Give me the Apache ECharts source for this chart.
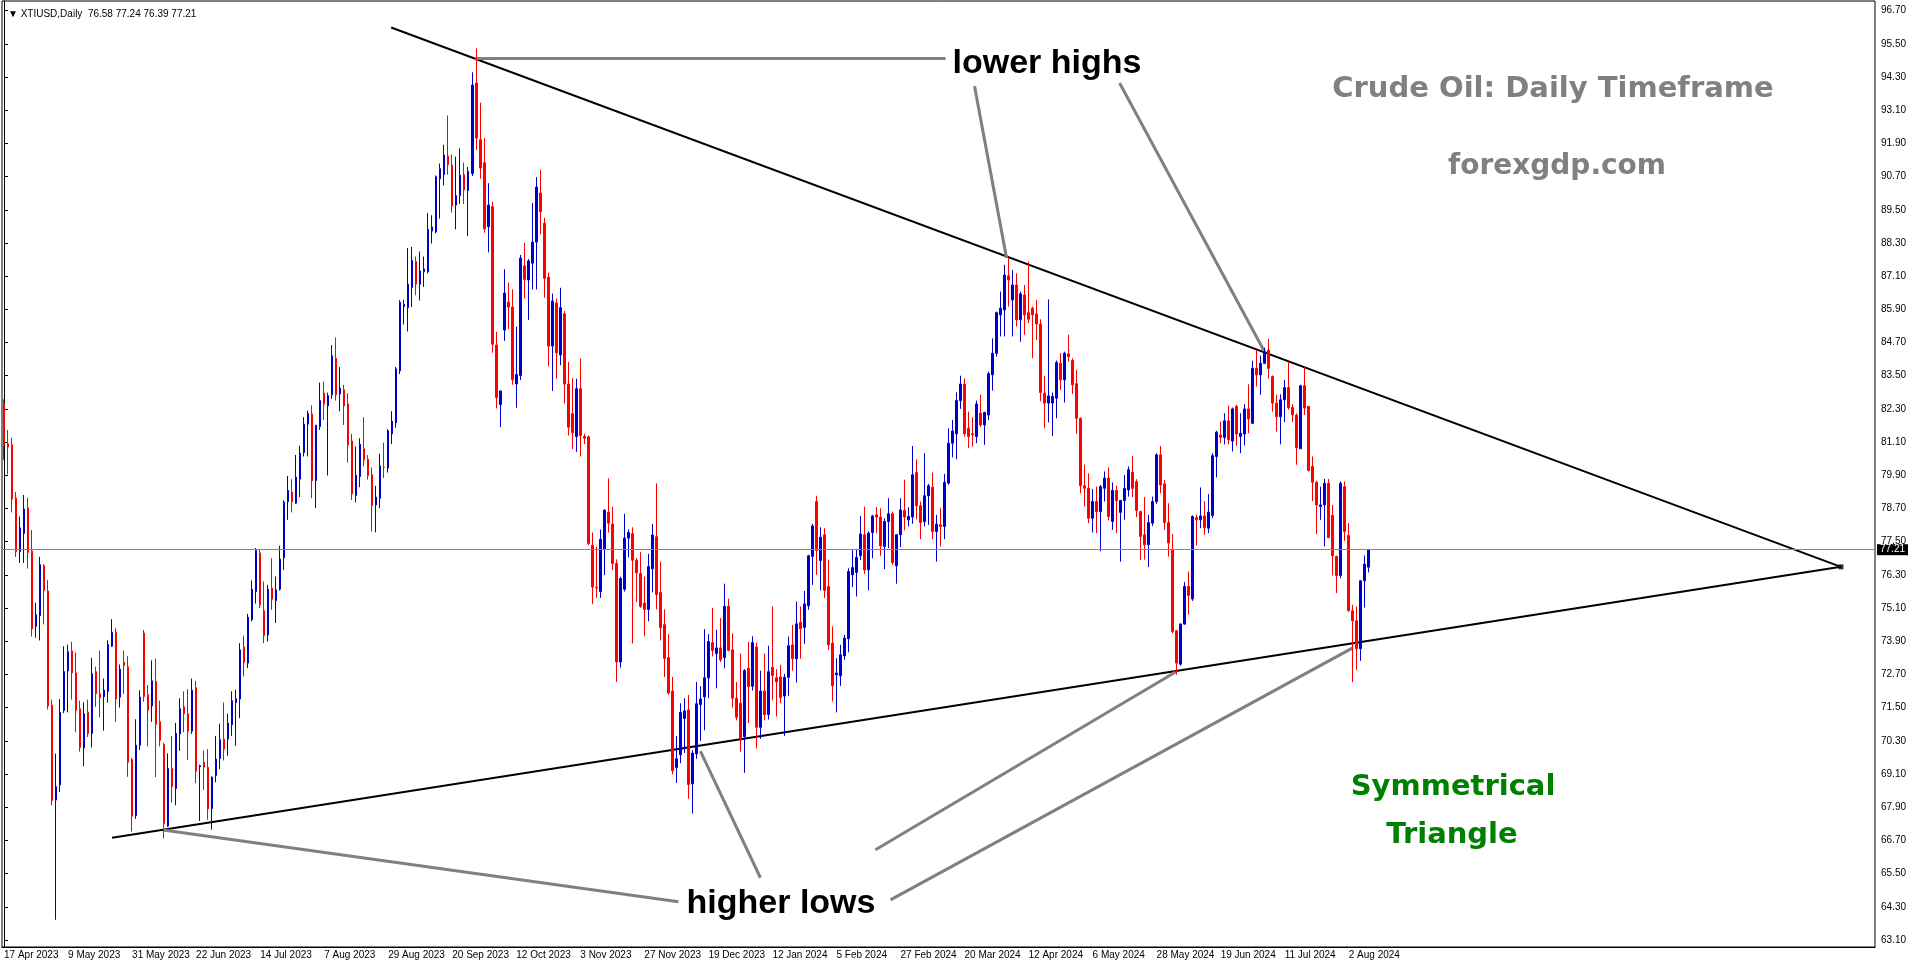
<!DOCTYPE html>
<html>
<head>
<meta charset="utf-8">
<script src="https://cdn.jsdelivr.net/npm/echarts/dist/echarts.min.js"></script>
<style>
  html, body { margin: 0; padding: 0; background: #fff; }
  #oil-chart { width: 1916px; height: 964px; }
</style>
</head>
<body>
<div id="oil-chart"></div>
<script>
// XTIUSD daily, 17 Apr 2023 .. 9 Aug 2024 (one bar per trading day)
const open = [82.49,81.04,81.00,79.08,77.14,77.80,78.72,77.16,74.44,74.83,76.63,75.72,71.59,68.16,68.71,71.40,72.83,73.55,72.76,71.46,
  70.04,71.33,70.57,72.80,72.00,71.90,72.09,73.72,74.22,71.88,73.14,72.98,69.62,67.60,70.14,74.20,71.97,71.56,72.45,70.99,
  70.17,67.22,69.30,68.58,70.55,71.53,71.28,70.65,72.22,69.36,69.53,69.34,67.85,69.05,69.66,70.36,70.36,70.88,71.69,71.81,
  73.69,73.11,74.68,75.70,77.09,75.00,74.13,75.82,75.37,75.78,76.92,78.95,79.29,78.89,79.76,80.72,81.75,82.12,79.71,81.66,
  82.87,82.41,82.81,84.13,82.84,82.99,82.48,81.14,79.17,79.86,80.86,80.48,79.92,78.83,79.07,80.20,80.16,81.40,81.80,83.68,
  86.00,85.96,86.69,87.63,86.81,87.26,87.26,88.73,88.70,90.62,90.77,91.44,91.11,89.67,90.01,90.77,90.20,90.81,94.08,92.03,
  91.20,88.89,89.61,84.61,82.46,85.15,86.16,85.98,83.20,83.51,87.47,86.96,87.57,88.33,90.11,89.01,87.06,84.57,86.13,84.25,
  85.74,83.20,82.13,81.30,83.03,81.30,81.29,77.37,75.85,75.70,77.22,78.56,78.14,76.71,73.15,75.78,77.63,77.79,76.83,76.35,
  75.28,75.05,76.52,77.68,75.67,74.50,73.31,72.10,69.34,69.80,71.11,71.42,68.75,69.83,71.61,71.89,72.58,73.85,73.46,73.66,
  73.31,75.16,73.59,71.84,71.66,70.45,72.92,72.27,73.69,70.79,72.10,71.25,72.95,72.58,72.61,71.92,72.60,73.77,73.27,74.58,
  74.40,75.18,76.97,78.95,76.82,77.75,75.88,73.83,72.69,72.65,73.37,73.99,76.30,76.39,76.99,77.75,76.48,77.83,78.47,78.39,
  77.33,78.23,78.51,76.63,77.75,78.63,78.29,78.39,80.00,78.80,78.23,79.16,79.47,77.87,78.11,78.05,79.62,81.06,81.40,82.60,
  83.20,81.60,81.40,81.30,82.15,81.72,82.08,83.53,84.31,85.70,85.88,87.11,86.24,86.78,85.52,86.42,85.78,85.94,85.73,85.37,
  82.87,82.51,82.51,82.69,83.95,83.35,84.29,84.05,83.21,81.96,79.52,79.43,78.35,78.95,78.59,79.43,79.80,78.23,79.35,78.56,
  78.99,79.37,80.01,79.67,78.59,77.75,77.39,78.17,78.95,80.64,79.59,78.19,77.21,74.28,73.07,74.52,75.88,75.43,78.37,78.29,
  78.43,77.99,78.45,80.58,81.36,81.27,81.87,81.14,82.39,81.30,81.39,82.30,81.78,83.77,83.53,83.95,84.43,83.47,82.51,82.02,
  82.63,83.07,82.35,82.08,80.86,83.14,82.39,80.22,79.65,78.77,78.83,79.61,78.45,76.96,76.28,79.49,77.72,75.00,74.64,73.63,
  76.09,76.58];
const high = [82.65,81.54,81.26,79.30,78.41,79.19,79.09,77.92,75.29,76.95,76.69,76.12,71.79,69.84,71.81,73.72,73.78,73.88,73.49,71.75,
  71.69,71.79,73.30,72.98,73.56,72.55,73.94,74.70,74.37,73.06,73.56,73.36,69.68,71.08,72.13,74.31,72.32,73.21,73.27,71.75,
  70.23,69.85,70.48,70.95,71.84,72.09,72.17,72.55,72.47,69.44,69.95,70.00,69.01,70.48,70.92,71.69,71.28,72.09,72.15,73.83,
  74.10,74.89,76.10,77.27,77.23,76.06,75.94,76.90,76.24,77.35,78.99,79.88,79.76,80.64,80.97,82.00,82.24,82.43,81.72,83.25,
  83.29,82.89,84.61,84.88,83.81,83.17,82.87,81.40,80.94,81.24,82.00,80.63,80.19,79.52,80.68,81.08,81.57,82.22,83.82,86.23,
  86.25,88.12,88.16,87.81,87.99,87.81,89.38,89.30,90.74,91.17,91.85,92.91,91.50,91.42,91.72,91.21,91.05,94.47,95.33,93.37,
  92.09,90.46,89.79,85.09,82.95,87.35,86.86,86.62,85.27,87.87,88.30,87.72,89.74,90.68,90.95,89.21,87.23,86.47,86.29,86.68,
  85.84,84.00,83.41,83.39,84.12,81.40,81.34,77.83,77.32,77.94,78.67,79.79,78.76,76.86,76.24,78.51,77.94,78.02,76.91,77.12,
  76.24,77.06,78.14,79.61,76.78,75.05,74.16,72.61,70.48,71.66,71.84,71.96,69.96,72.43,72.27,74.34,74.16,75.11,74.31,74.74,
  75.98,75.44,74.19,72.43,73.46,72.89,73.88,74.08,73.85,72.84,73.46,73.74,75.16,72.89,73.05,72.72,74.07,74.49,75.34,75.16,
  75.72,77.03,78.15,79.16,78.02,77.99,76.85,74.44,73.29,73.77,74.13,76.54,77.21,77.23,78.43,78.77,77.87,78.47,78.75,78.71,
  78.35,79.07,78.59,77.78,79.07,79.74,78.75,80.96,80.48,78.95,80.70,79.59,80.00,78.47,78.71,79.95,81.60,81.90,82.90,83.50,
  83.40,82.20,82.00,82.60,82.81,82.20,83.65,84.85,85.82,86.54,87.51,87.75,87.32,87.20,86.54,86.78,87.63,86.00,86.24,85.54,
  83.49,86.26,82.89,84.05,84.31,84.37,84.98,84.13,83.71,81.99,80.28,79.97,79.40,79.49,79.55,80.04,80.19,79.64,79.52,79.01,
  79.91,80.22,80.60,79.76,78.62,79.11,78.47,79.13,80.70,80.96,79.73,78.89,77.77,74.31,74.55,76.04,76.42,78.45,78.47,79.46,
  78.97,79.22,80.70,81.51,81.84,82.14,82.42,82.35,82.45,82.14,82.47,83.19,84.04,84.43,84.23,84.52,84.83,83.51,82.81,82.83,
  83.35,83.99,82.47,82.14,83.17,83.83,82.39,80.58,79.70,79.49,79.77,79.77,78.83,77.00,79.68,79.68,78.17,75.22,75.16,76.09,
  77.00,77.24];
const low = [80.46,79.93,78.56,76.95,76.73,76.73,76.53,74.07,74.03,73.93,74.51,71.43,67.97,63.83,68.45,71.30,71.33,71.79,70.61,69.91,
  69.38,70.44,70.06,71.53,71.15,70.67,71.69,73.69,70.99,71.50,72.00,69.00,67.02,67.48,69.97,71.71,70.10,70.99,68.99,70.10,
  66.77,67.19,68.07,67.97,69.94,70.61,69.60,70.55,68.77,67.40,68.53,67.45,67.09,68.80,69.28,69.59,69.76,70.48,70.12,71.12,
  72.63,72.93,74.62,75.26,75.10,73.83,73.89,75.04,74.56,75.73,76.48,78.29,78.56,78.87,79.11,80.58,80.58,79.07,78.71,81.54,
  81.90,79.89,82.66,82.60,82.21,81.72,80.36,79.01,78.92,79.47,80.22,79.74,77.87,77.84,78.71,79.80,80.00,81.03,81.62,83.56,
  85.35,85.10,85.98,86.41,86.22,86.71,87.20,88.28,88.65,89.18,90.38,90.77,89.40,88.79,89.71,89.71,88.55,90.72,91.66,90.62,
  88.67,87.96,84.33,82.32,81.64,84.76,85.19,83.17,82.34,83.35,86.29,85.52,86.62,86.62,88.61,86.32,83.84,82.95,83.39,83.88,
  82.50,81.34,80.85,80.75,80.58,81.03,77.37,75.24,75.47,75.47,76.29,77.83,76.47,72.43,72.95,75.70,76.94,73.82,75.32,75.11,
  74.08,74.62,75.67,75.05,73.93,72.61,71.96,69.09,68.78,69.49,69.86,68.21,67.67,69.65,70.30,70.68,71.84,73.35,72.20,73.15,
  72.92,73.54,71.50,71.04,69.91,69.14,70.94,72.12,70.02,70.37,71.04,71.07,71.76,71.18,71.66,70.48,71.93,72.84,72.41,73.27,
  73.81,75.04,75.94,76.30,75.74,75.46,73.59,71.72,71.33,72.29,73.23,73.50,75.86,75.52,76.84,76.34,75.74,76.90,77.81,76.99,
  76.51,77.27,76.66,75.98,77.30,77.91,78.05,78.15,78.31,77.59,78.05,78.11,77.59,76.78,77.33,77.59,79.56,80.55,80.48,82.30,
  81.30,80.88,80.94,81.06,81.65,81.00,81.90,82.96,84.19,84.92,84.92,86.00,84.92,85.28,84.73,84.98,85.40,84.13,84.79,82.57,
  81.60,81.81,81.32,81.96,82.99,82.53,84.01,82.84,81.40,79.25,78.77,78.17,77.83,77.81,77.15,78.95,78.27,77.93,77.81,76.78,
  78.29,79.13,79.11,78.39,76.84,76.85,76.58,78.07,78.87,79.25,77.93,76.96,74.19,72.69,73.02,74.50,74.86,75.36,77.36,77.99,
  77.75,77.81,78.35,79.82,81.06,81.02,81.02,80.76,80.97,80.70,80.98,81.42,81.75,83.11,82.81,83.92,83.39,82.20,81.48,81.02,
  81.82,82.27,81.82,80.28,80.86,82.08,80.04,78.97,77.77,78.29,77.33,77.63,76.28,75.64,76.18,77.53,74.98,72.42,72.87,73.19,
  75.12,76.39];
const close = [81.00,80.92,79.04,77.14,78.00,78.68,77.11,74.35,74.86,76.67,75.74,71.56,68.14,68.64,71.33,72.80,73.52,72.76,71.40,70.06,
  71.28,70.57,72.73,72.00,71.86,72.13,73.78,74.22,71.81,72.89,73.02,69.53,67.57,70.14,71.88,71.90,71.41,72.47,70.89,70.32,
  67.31,69.30,68.64,70.57,71.46,71.28,70.65,72.13,69.20,69.40,69.35,67.85,68.99,69.64,70.34,70.00,70.94,71.75,71.82,73.59,
  73.13,74.77,75.78,77.18,75.22,74.11,75.78,75.42,75.76,76.87,78.93,79.35,78.95,79.83,80.70,81.75,82.14,79.71,81.71,82.60,
  82.47,82.78,84.22,82.81,83.05,82.41,81.00,79.23,79.90,81.02,80.46,79.89,78.81,79.11,80.24,80.19,81.51,81.85,83.75,86.16,
  86.08,86.81,87.67,86.81,87.29,87.36,88.79,88.88,90.69,90.99,91.48,91.14,89.64,90.01,90.75,90.23,90.89,94.01,92.09,91.01,
  88.81,89.67,84.64,82.71,82.95,86.49,85.98,83.35,83.54,87.75,86.98,87.65,88.33,90.32,89.43,87.02,84.57,86.20,84.33,85.96,
  83.20,81.64,81.44,83.03,81.34,81.24,77.43,75.86,75.83,77.59,78.64,78.17,76.71,73.15,76.17,77.63,77.83,76.83,76.37,75.16,
  75.05,76.60,77.74,75.59,74.39,73.28,72.03,69.22,69.65,71.33,71.38,68.72,69.86,71.64,71.81,72.58,73.89,73.57,73.66,73.23,
  75.16,73.57,71.84,71.15,70.37,72.84,72.26,73.85,70.79,72.10,71.25,72.80,72.66,72.43,71.87,72.60,73.74,73.27,74.53,74.35,
  75.25,76.99,78.07,77.18,77.66,75.74,73.77,72.29,72.75,73.41,74.01,76.42,76.57,76.93,77.78,76.48,77.81,78.43,78.39,77.35,
  78.23,78.51,76.75,77.75,78.65,78.39,78.41,79.92,78.80,78.19,79.16,79.52,77.87,78.13,78.05,79.64,81.06,81.50,82.60,83.20,
  81.40,81.30,81.36,82.48,81.72,82.17,83.57,84.31,85.78,85.94,87.14,86.96,86.78,85.52,86.46,85.70,85.54,85.70,85.37,82.89,
  82.51,82.77,82.75,83.98,83.35,84.31,84.19,83.17,81.96,79.52,79.43,78.35,78.95,78.59,79.49,79.80,78.41,79.35,78.99,78.99,
  79.43,80.10,79.43,78.63,77.69,77.39,78.19,78.95,80.64,79.55,78.19,77.45,74.25,73.11,74.52,75.88,75.56,78.41,78.29,78.43,
  78.01,78.57,80.61,81.46,81.27,81.87,81.18,82.30,81.39,81.42,82.30,81.94,83.77,83.53,83.95,84.37,83.77,82.51,82.02,82.63,
  83.07,82.35,82.08,80.90,83.14,82.33,80.07,79.65,78.83,78.83,79.61,77.65,76.99,76.28,79.61,77.87,75.00,74.64,73.63,76.09,
  76.69,77.21];

// one date label every 16 bars
const dateLabels = ['17 Apr 2023','9 May 2023','31 May 2023','22 Jun 2023','14 Jul 2023','7 Aug 2023','29 Aug 2023',
  '20 Sep 2023','12 Oct 2023','3 Nov 2023','27 Nov 2023','19 Dec 2023','12 Jan 2024','5 Feb 2024','27 Feb 2024',
  '20 Mar 2024','12 Apr 2024','6 May 2024','28 May 2024','19 Jun 2024','11 Jul 2024','2 Aug 2024'];
const priceTicks = [63.10,64.30,65.50,66.70,67.90,69.10,70.30,71.50,72.70,73.90,75.10,76.30,77.50,78.70,79.90,
  81.10,82.30,83.50,84.70,85.90,87.10,88.30,89.50,90.70,91.90,93.10,94.30,95.50,96.70];
const lastPrice = 77.21;

// drawn objects, [bar index, price]
const apex = [459, 76.59];
const triangleLines = [
  [[96.75, 96.09], apex],
  [[27, 66.80], apex]
];
const pointerLines = [
  [[117.75, 94.99], [235.25, 94.99]],
  [[242.5, 93.97], [250.5, 87.76]],
  [[278.75, 94.08], [315, 84.36]],
  [[168.5, 64.48], [39.75, 67.08]],
  [[189, 65.35], [174, 69.93]],
  [[217.75, 66.36], [292.75, 72.79]],
  [[221.5, 64.55], [337, 73.66]]
];

const totalBars = 468;   // chart width incl. empty space on the right
const categories = [];
for (let i = 0; i < totalBars; i++) categories.push(String(i));

const ohlc = open.map((o, i) => [o, close[i], low[i], high[i]]);
const last = open.length - 1;
const header = '\u25BC XTIUSD,Daily  ' + open[last].toFixed(2) + ' ' + high[last].toFixed(2) + ' ' +
  low[last].toFixed(2) + ' ' + close[last].toFixed(2);

const showDate = (idx) => idx % 16 === 0 && idx / 16 < dateLabels.length;

const chartDom = document.getElementById('oil-chart');
const myChart = echarts.init(chartDom, null, {renderer: 'canvas'});
let option;

option = {
  backgroundColor: '#fff',
  animation: false,
  title: {
    text: header,
    left: 3,
    top: 4,
    textStyle: {fontFamily: 'Liberation Sans', fontSize: 10, fontWeight: 'normal', color: '#000'}
  },
  grid: {
    left: 2,
    right: 41,
    top: 1,
    bottom: 17,
    show: true,
    borderColor: '#000',
    borderWidth: 1,
    backgroundColor: 'transparent'
  },
  xAxis: [
    {
      type: 'category',
      data: categories,
      boundaryGap: true,
      axisLine: {lineStyle: {color: '#000'}},
      axisTick: {interval: (idx) => showDate(idx), alignWithLabel: true, length: 5, lineStyle: {color: '#000'}},
      axisLabel: {
        interval: (idx) => showDate(idx),
        formatter: (val, idx) => dateLabels[idx / 16],
        align: 'left',
        margin: 3,
        color: '#000',
        fontFamily: 'Liberation Sans',
        fontSize: 10
      },
      splitLine: {show: false}
    },
    {
      type: 'value',
      min: -0.5,
      max: totalBars - 0.5,
      show: false
    }
  ],
  yAxis: {
    type: 'value',
    position: 'right',
    min: 62.847,
    max: 97.047,
    scale: true,
    axisLine: {show: true, lineStyle: {color: '#000'}},
    axisTick: {show: true, customValues: priceTicks, length: 4, lineStyle: {color: '#000'}},
    axisLabel: {
      customValues: priceTicks,
      formatter: (v) => v.toFixed(2),
      margin: 6,
      color: '#000',
      fontFamily: 'Liberation Sans',
      fontSize: 10
    },
    splitLine: {show: false}
  },
  series: [
    {
      name: 'XTIUSD',
      type: 'candlestick',
      data: ohlc,
      barWidth: 2,
      itemStyle: {
        color: '#0000cd',
        color0: '#ff0000',
        borderColor: '#0000cd',
        borderColor0: '#ff0000',
        borderWidth: 1
      },
      markLine: {
        silent: true,
        symbol: 'none',
        lineStyle: {color: '#778899', width: 1, type: 'solid'},
        label: {
          position: 'end',
          formatter: lastPrice.toFixed(2),
          color: '#fff',
          backgroundColor: '#000',
          fontFamily: 'Liberation Sans',
          fontSize: 10,
          padding: [1, 3, 0, 3],
          distance: 2
        },
        data: [{yAxis: lastPrice}]
      }
    },
    {
      type: 'lines',
      coordinateSystem: 'cartesian2d',
      xAxisIndex: 1,
      silent: true,
      lineStyle: {color: '#000', width: 2, opacity: 1},
      data: triangleLines.map((c) => ({coords: c}))
    },
    {
      type: 'lines',
      coordinateSystem: 'cartesian2d',
      xAxisIndex: 1,
      silent: true,
      lineStyle: {color: '#808080', width: 3, opacity: 1},
      data: pointerLines.map((c) => ({coords: c}))
    },
    {
      // end point marker of the trend lines
      type: 'scatter',
      xAxisIndex: 1,
      silent: true,
      symbol: 'rect',
      symbolSize: 5,
      itemStyle: {color: '#000'},
      data: [apex]
    }
  ],
  graphic: [
    {type: 'text', x: 1047, y: 64, style: {text: 'lower highs', font: 'bold 34px "Liberation Sans"', fill: '#000', align: 'center', verticalAlign: 'middle'}},
    {type: 'text', x: 781, y: 904, style: {text: 'higher lows', font: 'bold 34px "Liberation Sans"', fill: '#000', align: 'center', verticalAlign: 'middle'}},
    {type: 'text', x: 1553, y: 89, style: {text: 'Crude Oil: Daily Timeframe', font: 'bold 29px "DejaVu Sans"', fill: '#808080', align: 'center', verticalAlign: 'middle'}},
    {type: 'text', x: 1557, y: 167, style: {text: 'forexgdp.com', font: 'bold 28px "DejaVu Sans"', fill: '#808080', align: 'center', verticalAlign: 'middle'}},
    {type: 'text', x: 1453, y: 787, style: {text: 'Symmetrical', font: 'bold 29px "DejaVu Sans"', fill: '#008000', align: 'center', verticalAlign: 'middle'}},
    {type: 'text', x: 1452, y: 835, style: {text: 'Triangle', font: 'bold 29px "DejaVu Sans"', fill: '#008000', align: 'center', verticalAlign: 'middle'}}
  ]
};

option && myChart.setOption(option);
</script>
</body>
</html>
